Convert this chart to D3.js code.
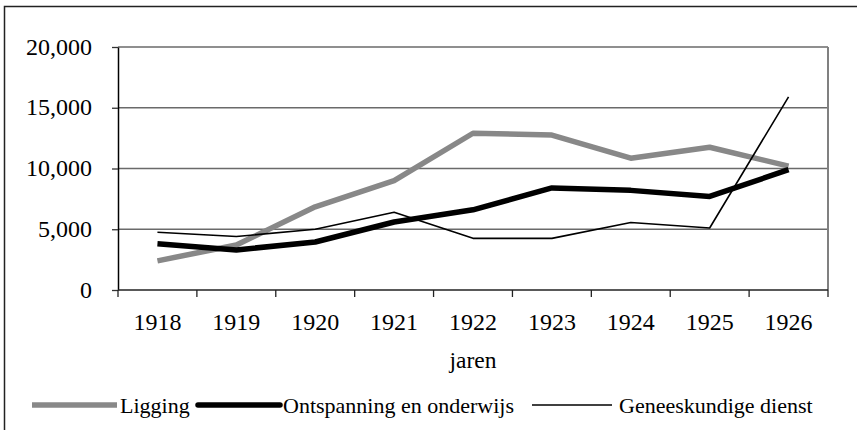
<!DOCTYPE html>
<html>
<head>
<meta charset="utf-8">
<script src="https://d3js.org/d3.v7.min.js"></script>
<style>
  body { margin: 0; background: #fff; }
  text { font-family: "Liberation Serif", "Times New Roman", serif; fill: #000; }
</style>
</head>
<body>
<svg id="chart" width="857" height="430"></svg>
<script>
const years = ["1918", "1919", "1920", "1921", "1922", "1923", "1924", "1925", "1926"];
const ligging = [2400, 3700, 6850, 9000, 12900, 12750, 10850, 11750, 10200];
const ontspanning = [3800, 3300, 3950, 5600, 6600, 8400, 8200, 7700, 9900];
const geneeskundig = [4750, 4400, 5000, 6400, 4250, 4250, 5550, 5100, 15900];
const yTicks = [0, 5000, 10000, 15000, 20000];
const seriesNames = ["Ligging", "Ontspanning en onderwijs", "Geneeskundige dienst"];

const svg = d3.select("svg#chart");
const margin = {top: 47, right: 29, bottom: 140, left: 118};
const plotW = 857 - margin.left - margin.right;
const plotH = 430 - margin.top - margin.bottom;

// outer frame
svg.append("rect")
   .attr("x", 4.5).attr("y", 6.5)
   .attr("width", 900).attr("height", 500)
   .attr("fill", "none")
   .attr("stroke", "#222")
   .attr("stroke-width", 1.5);

const g = svg.append("g")
   .attr("transform", `translate(${margin.left},${margin.top})`);

const x = d3.scaleBand().domain(years).range([0, plotW]);
const y = d3.scaleLinear().domain([0, 20000]).range([plotH, 0]);

// gridlines
g.append("g")
 .selectAll("line")
 .data(yTicks.slice(1))
 .join("line")
 .attr("x1", 0).attr("x2", plotW)
 .attr("y1", d => y(d)).attr("y2", d => y(d))
 .attr("stroke", "#6a6a6a")
 .attr("stroke-width", 1.3);

// plot border right side
g.append("line")
 .attr("x1", plotW).attr("x2", plotW)
 .attr("y1", 0).attr("y2", plotH)
 .attr("stroke", "#808080")
 .attr("stroke-width", 2);

// y axis
const yAxis = g.append("g")
 .call(d3.axisLeft(y).tickValues(yTicks).tickSize(6).tickSizeOuter(0).tickPadding(20)
   .tickFormat(d3.format(",")));
yAxis.select(".domain").attr("stroke", "#000").attr("stroke-width", 1.5);
yAxis.selectAll(".tick line").attr("stroke", "#333").attr("stroke-width", 1.3);
yAxis.selectAll(".tick text")
 .attr("font-size", "24px")
 .attr("font-family", "Liberation Serif")
 .attr("dy", "7px");

// x axis: ticks at band boundaries
const xAxis = g.append("g")
 .attr("transform", `translate(0,${plotH})`);
xAxis.append("line")
 .attr("x1", 0).attr("x2", plotW)
 .attr("stroke", "#222").attr("stroke-width", 1.5);
xAxis.selectAll("line.tk")
 .data(years.concat(["end"]))
 .join("line")
 .attr("class", "tk")
 .attr("x1", (d, i) => i < years.length ? x(d) : plotW)
 .attr("x2", (d, i) => i < years.length ? x(d) : plotW)
 .attr("y1", 0).attr("y2", 7)
 .attr("stroke", "#222").attr("stroke-width", 1.3);
xAxis.selectAll("text")
 .data(years)
 .join("text")
 .attr("x", d => x(d) + x.bandwidth() / 2)
 .attr("y", 40)
 .attr("text-anchor", "middle")
 .attr("font-size", "24px")
 .text(d => d);

// axis title
g.append("text")
 .attr("x", plotW / 2)
 .attr("y", 321)
 .attr("text-anchor", "middle")
 .attr("font-size", "23.5px")
 .text("jaren");

// lines
const line = d3.line()
 .x((d, i) => x(years[i]) + x.bandwidth() / 2)
 .y(d => y(d));

const series = [
  {name: seriesNames[0], values: ligging, color: "#888", width: 5.5},
  {name: seriesNames[1], values: ontspanning, color: "#000", width: 5.5},
  {name: seriesNames[2], values: geneeskundig, color: "#000", width: 1.6}
];

series.forEach(s => {
  g.append("path")
   .datum(s.values)
   .attr("d", line)
   .attr("fill", "none")
   .attr("stroke", s.color)
   .attr("stroke-width", s.width)
   .attr("stroke-linejoin", "round");
});

// legend
const legendY = 405;
const legendItems = [
  {x1: 32, x2: 117, tx: 120},
  {x1: 198, x2: 280, tx: 283},
  {x1: 532, x2: 612, tx: 619}
];
const legend = svg.append("g");
series.forEach((s, i) => {
  const li = legendItems[i];
  legend.append("line")
   .attr("x1", li.x1).attr("x2", li.x2)
   .attr("y1", legendY).attr("y2", legendY)
   .attr("stroke", s.color)
   .attr("stroke-width", s.width)
   .attr("stroke-linecap", i === 1 ? "round" : "butt");
  legend.append("text")
   .attr("x", li.tx)
   .attr("y", 413)
   .attr("font-size", "22px")
   .text(s.name);
});
</script>
</body>
</html>
